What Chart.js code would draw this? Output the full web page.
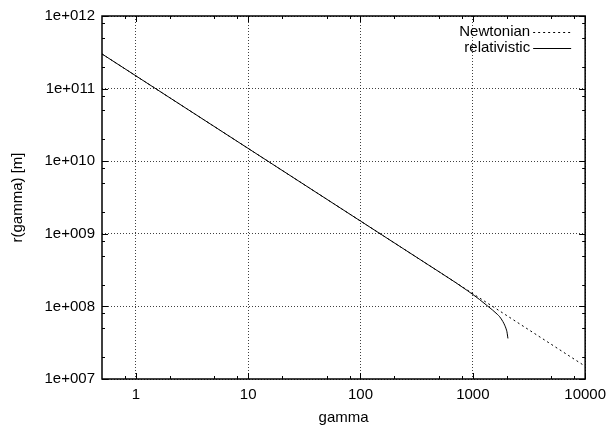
<!DOCTYPE html>
<html>
<head>
<meta charset="utf-8">
<script src="https://cdn.jsdelivr.net/npm/chart.js@4.4.1/dist/chart.umd.min.js"></script>
<style>
  html, body { margin: 0; padding: 0; background: #ffffff; }
  #wrap { width: 613px; height: 428px; }
</style>
</head>
<body>
<div id="wrap"><canvas id="c" width="613" height="428"></canvas></div>
<script>
// Newtonian estimate: straight power law in log-log space
const gammaNewton = [0.5, 10000];
const rNewton = [3.0e11, 1.5e7];

// Relativistic radius: follows the Newtonian law, then turns down near gamma ~ 2000
const gammaRel = [0.5, 10, 100, 400, 700, 900, 1000, 1150, 1346, 1500, 1650, 1735, 1850, 1922, 1980, 2013, 2040, 2055];
const rRel = [3.0e11, 1.5e10, 1.5e9, 3.75e8, 2.14e8, 1.64e8, 1.46e8, 1.24e8, 1.02e8, 8.9e7, 7.8e7, 7.2e7, 6.2e7, 5.52e7, 4.9e7, 4.47e7, 3.9e7, 3.62e7];

// Axis ticks
const xTicks = [1, 10, 100, 1000, 10000];
const yTicks = [1e7, 1e8, 1e9, 1e10, 1e11, 1e12];
const minorMultipliers = [2, 5, 8];

const seriesNames = ['Newtonian', 'relativistic'];

const FONT = 'Liberation Sans, Arial, Helvetica, sans-serif';

function toPoints(xs, ys) {
  return xs.map((x, i) => ({ x: x, y: ys[i] }));
}

function yLabel(v) {
  const e = Math.round(Math.log10(v));
  return '1e+' + String(e).padStart(3, '0');
}

// Frame, inward major/minor ticks on all four sides, and the key
const framePlugin = {
  id: 'frame',
  afterDraw(chart) {
    const ctx = chart.ctx;
    const a = chart.chartArea;
    const xs = chart.scales.x, ys = chart.scales.y;
    ctx.save();
    ctx.strokeStyle = '#000';
    ctx.lineWidth = 1;
    const majorLen = 6, minorLen = 3;

    function xTick(v, len) {
      const p = Math.round(xs.getPixelForValue(v)) + 0.5;
      ctx.beginPath();
      ctx.moveTo(p, a.bottom); ctx.lineTo(p, a.bottom - len);
      ctx.moveTo(p, a.top); ctx.lineTo(p, a.top + len);
      ctx.stroke();
    }
    function yTick(v, len) {
      const p = Math.round(ys.getPixelForValue(v)) + 0.5;
      ctx.beginPath();
      ctx.moveTo(a.left, p); ctx.lineTo(a.left + len, p);
      ctx.moveTo(a.right, p); ctx.lineTo(a.right - len, p);
      ctx.stroke();
    }
    for (let k = -1; k <= 4; k++) {
      const base = Math.pow(10, k);
      if (base >= xs.min && base <= xs.max) xTick(base, majorLen);
      minorMultipliers.forEach(m => {
        const v = m * base;
        if (v > xs.min && v < xs.max) xTick(v, minorLen);
      });
    }
    for (let k = 7; k <= 12; k++) {
      const base = Math.pow(10, k);
      if (base >= ys.min && base <= ys.max) yTick(base, majorLen);
      minorMultipliers.forEach(m => {
        const v = m * base;
        if (v > ys.min && v < ys.max) yTick(v, minorLen);
      });
    }

    // border box
    ctx.lineWidth = 1.5;
    ctx.strokeRect(a.left, a.top, a.right - a.left, a.bottom - a.top);

    // key in the upper right corner: text followed by line sample
    ctx.font = '15px ' + FONT;
    ctx.fillStyle = '#000';
    ctx.textAlign = 'right';
    ctx.textBaseline = 'middle';
    const textRight = a.right - 55;
    const sampleL = a.right - 52, sampleR = a.right - 14;
    const rows = [a.top + 16, a.top + 32];
    chart.data.datasets.forEach((ds, i) => {
      const y = rows[i];
      ctx.fillText(ds.label, textRight, y);
      ctx.save();
      ctx.lineWidth = 1;
      ctx.strokeStyle = '#000';
      ctx.setLineDash(ds.borderDash || []);
      ctx.beginPath();
      ctx.moveTo(sampleL, y + 0.5);
      ctx.lineTo(sampleR, y + 0.5);
      ctx.stroke();
      ctx.restore();
    });
    ctx.restore();
  }
};

new Chart(document.getElementById('c'), {
  type: 'line',
  data: {
    datasets: [
      {
        label: seriesNames[0],
        data: toPoints(gammaNewton, rNewton),
        borderColor: '#000',
        borderWidth: 1,
        borderDash: [2, 3],
        pointRadius: 0,
        fill: false
      },
      {
        label: seriesNames[1],
        data: toPoints(gammaRel, rRel),
        borderColor: '#000',
        borderWidth: 1,
        pointRadius: 0,
        cubicInterpolationMode: 'monotone',
        fill: false
      }
    ]
  },
  options: {
    responsive: false,
    animation: false,
    devicePixelRatio: 1,
    layout: { padding: { left: 0, right: 25, top: 15, bottom: 0 } },
    plugins: {
      legend: { display: false },
      tooltip: { enabled: false }
    },
    scales: {
      x: {
        type: 'logarithmic',
        min: 0.5,
        max: 10000,
        afterBuildTicks(scale) { scale.ticks = xTicks.map(v => ({ value: v })); },
        afterFit(scale) { scale.height = 49; },
        grid: { color: 'rgba(0,0,0,0.75)', lineWidth: 1, drawTicks: false },
        border: { display: false, dash: [1, 2] },
        ticks: {
          color: '#000',
          font: { family: FONT, size: 15 },
          padding: 7,
          maxRotation: 0,
          autoSkip: false,
          callback: v => String(v)
        },
        title: {
          display: true,
          text: 'gamma',
          color: '#000',
          font: { family: FONT, size: 15 },
          padding: { top: 0, bottom: 1 }
        }
      },
      y: {
        type: 'logarithmic',
        min: 1e7,
        max: 1e12,
        afterBuildTicks(scale) { scale.ticks = yTicks.map(v => ({ value: v })); },
        afterFit(scale) { scale.width = 102; },
        grid: { color: 'rgba(0,0,0,0.75)', lineWidth: 1, drawTicks: false },
        border: { display: false, dash: [1, 2] },
        ticks: {
          color: '#000',
          font: { family: FONT, size: 15 },
          padding: 7,
          autoSkip: false,
          callback: v => yLabel(v)
        },
        title: {
          display: true,
          text: 'r(gamma) [m]',
          color: '#000',
          font: { family: FONT, size: 15 },
          padding: { top: 9, bottom: 0 }
        }
      }
    }
  },
  plugins: [framePlugin]
});
</script>
</body>
</html>
